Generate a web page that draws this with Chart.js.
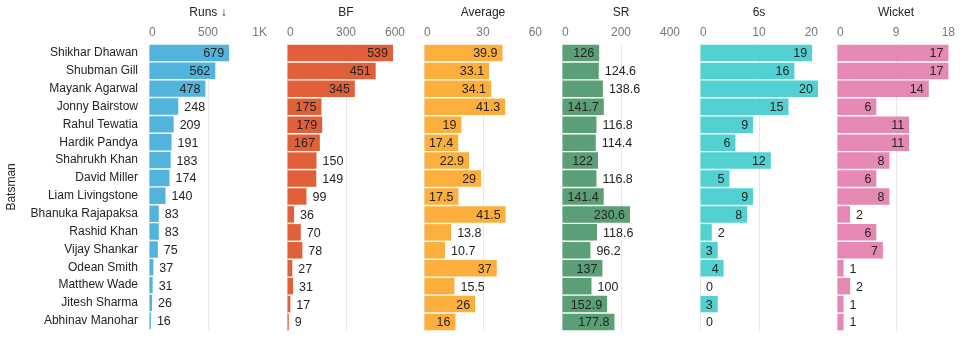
<!DOCTYPE html>
<html>
<head>
<meta charset="utf-8">
<script src="https://cdn.jsdelivr.net/npm/chart.js@4.4.1/dist/chart.umd.min.js"></script>
<style>
    body { margin: 0; background: #fff; }
    #wrap { position: relative; width: 977px; height: 348px; overflow: hidden; }
    .panel { position: absolute; top: 0; height: 348px; }
</style>
</head>
<body>
<div id="wrap"></div>
<script>
// Batsmen, sorted by runs
const batsmen = ['Shikhar Dhawan', 'Shubman Gill', 'Mayank Agarwal', 'Jonny Bairstow', 'Rahul Tewatia',
    'Hardik Pandya', 'Shahrukh Khan', 'David Miller', 'Liam Livingstone', 'Bhanuka Rajapaksa',
    'Rashid Khan', 'Vijay Shankar', 'Odean Smith', 'Matthew Wade', 'Jitesh Sharma', 'Abhinav Manohar'];

const runs = [679, 562, 478, 248, 209, 191, 183, 174, 140, 83, 83, 75, 37, 31, 26, 16];
const ballsFaced = [539, 451, 345, 175, 179, 167, 150, 149, 99, 36, 70, 78, 27, 31, 17, 9];
const average = [39.9, 33.1, 34.1, 41.3, 19, 17.4, 22.9, 29, 17.5, 41.5, 13.8, 10.7, 37, 15.5, 26, 16];
const strikeRate = [126, 124.6, 138.6, 141.7, 116.8, 114.4, 122, 116.8, 141.4, 230.6, 118.6, 96.2, 137, 100, 152.9, 177.8];
const sixes = [19, 16, 20, 15, 9, 6, 12, 5, 9, 8, 2, 3, 4, 0, 3, 0];
const wickets = [17, 17, 14, 6, 11, 11, 8, 6, 8, 2, 6, 7, 1, 2, 1, 1];

const panelTitles = ['Runs ↓', 'BF', 'Average', 'SR', '6s', 'Wicket'];
const panelMax = [1000, 600, 60, 400, 20, 18];
const panelColors = ['#52b4dc', '#e0603a', '#fdaf3e', '#5a9f76', '#52d0d2', '#e589b4'];
const panelData = [runs, ballsFaced, average, strikeRate, sixes, wickets];

// Left edge of each panel's value axis, axis width
const panelLeft = [149, 287, 424, 562, 700, 837];
const axisWidth = 118;

const FONT = "'Liberation Sans', Arial, sans-serif";

// Draws value labels inside the bar end if they fit, else just outside
const valueLabels = {
    id: 'valueLabels',
    afterDatasetsDraw(chart) {
        const ctx = chart.ctx;
        const values = chart.data.datasets[0].data;
        ctx.save();
        ctx.font = '12.5px ' + FONT;
        ctx.fillStyle = '#252423';
        ctx.textBaseline = 'middle';
        chart.getDatasetMeta(0).data.forEach(function(bar, i) {
            const text = String(values[i]);
            const w = ctx.measureText(text).width;
            const len = bar.x - bar.base;
            if (len >= w + 9.3) {
                ctx.textAlign = 'right';
                ctx.fillText(text, bar.x - 5, bar.y + 1);
            } else {
                ctx.textAlign = 'left';
                ctx.fillText(text, bar.x + 6, bar.y + 1);
            }
        });
        ctx.restore();
    }
};

function makePanel(idx) {
    const first = idx === 0;
    const div = document.createElement('div');
    div.className = 'panel';
    const width = first ? panelLeft[0] + axisWidth : axisWidth;
    div.style.left = (first ? 0 : panelLeft[idx]) + 'px';
    div.style.width = width + 'px';
    const canvas = document.createElement('canvas');
    div.appendChild(canvas);
    document.getElementById('wrap').appendChild(div);

    const max = panelMax[idx];
    new Chart(canvas.getContext('2d'), {
        type: 'bar',
        data: {
            labels: batsmen,
            datasets: [{
                data: panelData[idx],
                backgroundColor: panelColors[idx],
                borderWidth: 0,
                categoryPercentage: 1,
                barPercentage: 0.92
            }]
        },
        options: {
            indexAxis: 'y',
            responsive: true,
            maintainAspectRatio: false,
            animation: false,
            events: [],
            layout: { padding: { top: 0, bottom: 17, left: 0, right: 0 } },
            plugins: {
                legend: { display: false },
                tooltip: { enabled: false }
            },
            scales: {
                x: {
                    position: 'top',
                    min: 0,
                    max: max,
                    afterBuildTicks: function(scale) {
                        scale.ticks = [{ value: 0 }, { value: max / 2 }, { value: max }];
                    },
                    afterFit: function(scale) {
                        scale.height = 44;
                        scale.paddingLeft = 0;
                        scale.paddingRight = 0;
                    },
                    grid: { color: '#e8e8e8', drawTicks: false },
                    border: { display: false },
                    ticks: {
                        align: 'inner',
                        padding: 4,
                        color: '#777',
                        font: { family: FONT, size: 12 },
                        callback: function(value) {
                            return value >= 1000 ? (value / 1000) + 'K' : value;
                        }
                    },
                    title: {
                        display: true,
                        text: panelTitles[idx],
                        color: '#252423',
                        font: { family: FONT, size: 12 },
                        padding: { top: 5, bottom: 0 }
                    }
                },
                y: {
                    display: first,
                    afterFit: function(scale) { if (first) scale.width = panelLeft[0]; },
                    grid: { display: false, drawTicks: false },
                    border: { display: false },
                    ticks: {
                        padding: 11,
                        color: '#252423',
                        font: { family: FONT, size: 12 },
                        autoSkip: false
                    },
                    title: {
                        display: first,
                        text: 'Batsman',
                        color: '#252423',
                        font: { family: FONT, size: 12 },
                        padding: { top: 4, bottom: 0 }
                    }
                }
            }
        },
        plugins: [valueLabels]
    });
}

for (let i = 0; i < panelTitles.length; i++) {
    makePanel(i);
}
</script>
</body>
</html>
